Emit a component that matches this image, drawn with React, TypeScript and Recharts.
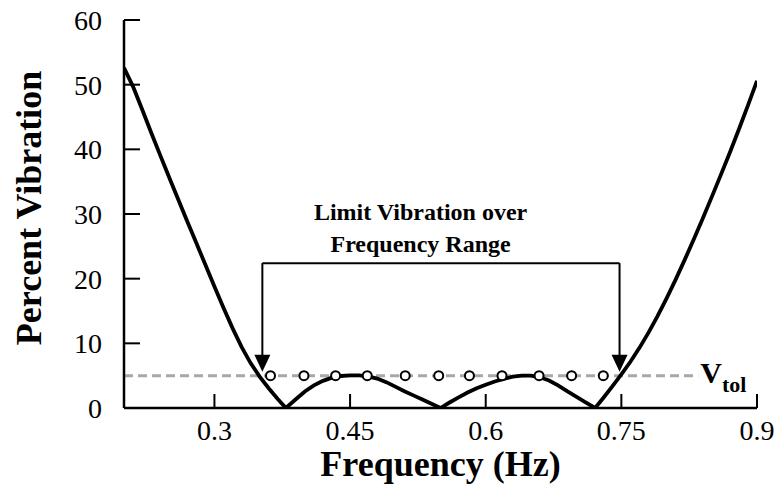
import {
  ComposedChart,
  Line,
  Scatter,
  XAxis,
  YAxis,
  ReferenceLine,
  ReferenceDot,
} from "recharts"

// residual vibration vs. frequency
const frequencyHz = [
  0.2, 0.21, 0.22, 0.23, 0.24, 0.25, 0.26, 0.27, 0.28, 0.29, 0.3, 0.31, 0.32, 0.33, 0.34, 0.35, 0.36, 0.37, 0.379,
  0.39, 0.4, 0.41, 0.42, 0.43, 0.44, 0.45, 0.46, 0.47, 0.48, 0.49, 0.5, 0.51, 0.52, 0.53, 0.54, 0.55,
  0.56, 0.57, 0.58, 0.59, 0.6, 0.61, 0.62, 0.63, 0.64, 0.65, 0.66, 0.67, 0.68, 0.69, 0.7, 0.71, 0.721,
  0.73, 0.74, 0.75, 0.76, 0.77, 0.78, 0.79, 0.8, 0.81, 0.82, 0.83, 0.84, 0.85, 0.86, 0.87, 0.88, 0.89, 0.9,
]
const vibrationPct = [
  52.6, 49.7, 46.2, 42.6, 39.1, 35.65, 32.25, 28.85, 25.5, 22.15, 18.8, 15.5, 12.35, 9.45, 6.95, 4.85, 3.05, 1.4, 0,
  1.35, 2.55, 3.5, 4.2, 4.7, 4.95, 5.05, 5.05, 4.9, 4.55, 4.0, 3.3, 2.6, 1.95, 1.3, 0.65, 0,
  0.85, 1.65, 2.4, 3.05, 3.6, 4.1, 4.5, 4.85, 5.0, 5.0, 4.75, 4.25, 3.5, 2.6, 1.75, 0.9, 0,
  1.55, 3.35, 5.2, 7.15, 9.3, 11.65, 14.2, 16.95, 19.85, 22.9, 26.05, 29.3, 32.65, 36.05, 39.5, 43.1, 46.8, 50.6,
]

// constraint frequencies held at the tolerance level
const constraintHz = [0.362, 0.399, 0.434, 0.469, 0.511, 0.548, 0.582, 0.618, 0.659, 0.695, 0.73]

const toleranceLevel = 5
const toleranceEndHz = 0.835
const rangeStartHz = 0.353
const rangeEndHz = 0.748
const bracketLevel = 22.4
const arrowTipLevel = 5.6
const noteHz = 0.528
const noteLevel = 29.1

const xTicks = [0.3, 0.45, 0.6, 0.75, 0.9]
const yTicks = [0, 10, 20, 30, 40, 50, 60]

const curveRows = frequencyHz.map((f, i) => ({ f, v: vibrationPct[i] }))
const constraintRows = constraintHz.map((f) => ({ f, v: toleranceLevel }))

const ink = "#000"
const serif = '"Liberation Serif", "Times New Roman", Times, serif'

function ArrowHead(props: any) {
  const { cx, cy } = props
  return <polygon points={`${cx - 8},${cy - 17} ${cx + 8},${cy - 17} ${cx},${cy}`} fill={ink} />
}

function OpenCircle(props: any) {
  const { cx, cy } = props
  return <circle cx={cx} cy={cy} r={4.5} fill="#fff" stroke={ink} strokeWidth={2} />
}

function RangeNote(props: any) {
  const { cx, cy } = props
  return (
    <text x={cx} y={cy} textAnchor="middle" fontFamily={serif} fontSize={24} fontWeight="bold" fill={ink}>
      <tspan x={cx}>Limit Vibration over</tspan>
      <tspan x={cx} dy={32}>
        Frequency Range
      </tspan>
    </text>
  )
}

function TolLabel(props: any) {
  const { cx, cy } = props
  return (
    <text x={cx + 2} y={cy + 7} fontFamily={serif} fontWeight="bold" fill={ink}>
      <tspan fontSize={30}>V</tspan>
      <tspan fontSize={22} dy={9}>
        tol
      </tspan>
    </text>
  )
}

function YTitle(props: any) {
  const { viewBox } = props
  const x = viewBox.x + 41
  const y = viewBox.y + viewBox.height / 2 - 6
  return (
    <text
      x={x}
      y={y}
      transform={`rotate(-90, ${x}, ${y})`}
      textAnchor="middle"
      fontFamily={serif}
      fontSize={36}
      fontWeight="bold"
      fill={ink}
    >
      Percent Vibration
    </text>
  )
}

function XTitle(props: any) {
  const { viewBox } = props
  const x = viewBox.x + viewBox.width / 2
  const y = viewBox.y + 68
  return (
    <text x={x} y={y} textAnchor="middle" fontFamily={serif} fontSize={36} fontWeight="bold" fill={ink}>
      Frequency (Hz)
    </text>
  )
}

const tickStyle = { fontSize: 28, fill: ink, fontFamily: serif }

export default function App() {
  return (
    <div
      style={{
        position: "absolute",
        left: 0,
        top: 0,
        width: 779,
        height: 487,
        background: "#fff",
        fontFamily: serif,
      }}
    >
      <ComposedChart width={779} height={487} margin={{ top: 20, right: 22, bottom: 0, left: 0 }}>
        <XAxis
          dataKey="f"
          type="number"
          domain={[0.2, 0.9]}
          ticks={xTicks}
          allowDataOverflow
          height={79}
          axisLine={{ stroke: ink, strokeWidth: 2.5 }}
          tickLine={{ stroke: ink, strokeWidth: 2 }}
          tickSize={-14}
          tickMargin={26}
          tick={tickStyle}
          label={{ content: XTitle }}
        />
        <YAxis
          dataKey="v"
          type="number"
          domain={[0, 60]}
          ticks={yTicks}
          allowDataOverflow
          width={124}
          axisLine={{ stroke: ink, strokeWidth: 2.5 }}
          tickLine={{ stroke: ink, strokeWidth: 2 }}
          tickSize={-16}
          tickMargin={38}
          tick={tickStyle}
          label={{ content: YTitle }}
        />
        <ReferenceLine
          segment={[
            { x: 0.2, y: toleranceLevel },
            { x: toleranceEndHz, y: toleranceLevel },
          ]}
          stroke="#a8a8a8"
          strokeWidth={3}
          strokeDasharray="9 5"
        />
        <Line
          data={curveRows}
          dataKey="v"
          type="linear"
          stroke={ink}
          strokeWidth={3.8}
          dot={false}
          activeDot={false}
          isAnimationActive={false}
        />
        <Scatter data={constraintRows} dataKey="v" shape={OpenCircle} isAnimationActive={false} />
        <ReferenceLine
          segment={[
            { x: rangeStartHz, y: 8 },
            { x: rangeStartHz, y: bracketLevel },
          ]}
          stroke={ink}
          strokeWidth={2}
        />
        <ReferenceLine
          segment={[
            { x: rangeStartHz, y: bracketLevel },
            { x: rangeEndHz, y: bracketLevel },
          ]}
          stroke={ink}
          strokeWidth={2}
        />
        <ReferenceLine
          segment={[
            { x: rangeEndHz, y: bracketLevel },
            { x: rangeEndHz, y: 8 },
          ]}
          stroke={ink}
          strokeWidth={2}
        />
        <ReferenceDot x={rangeStartHz} y={arrowTipLevel} shape={ArrowHead} />
        <ReferenceDot x={rangeEndHz} y={arrowTipLevel} shape={ArrowHead} />
        <ReferenceDot x={noteHz} y={noteLevel} shape={RangeNote} />
        <ReferenceDot x={toleranceEndHz} y={toleranceLevel} shape={TolLabel} />
      </ComposedChart>
    </div>
  )
}
